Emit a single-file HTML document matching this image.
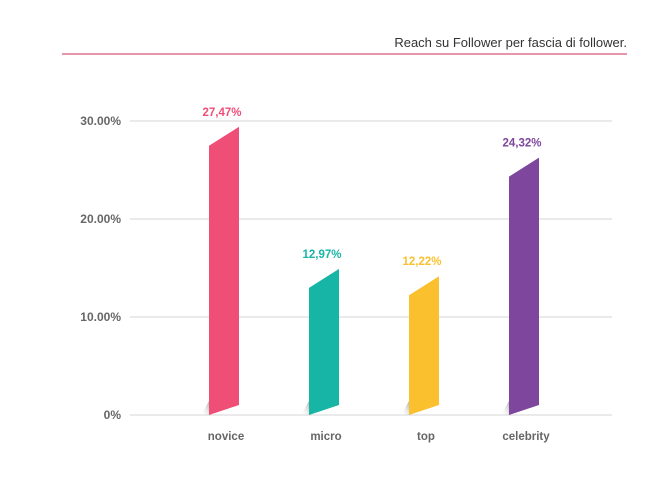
<!DOCTYPE html>
<html><head><meta charset="utf-8"><style>
body{margin:0;background:#fff;}
svg{display:block;font-family:"Liberation Sans",sans-serif;}
</style></head><body>
<svg width="668" height="479" viewBox="0 0 668 479">
<defs>
<linearGradient id="sh" x1="1" y1="0" x2="0" y2="1"><stop offset="0" stop-color="#999" stop-opacity="0.8"/><stop offset="1" stop-color="#fff" stop-opacity="0"/></linearGradient>
</defs>
<text x="627" y="47" text-anchor="end" font-size="13" fill="#333">Reach su Follower per fascia di follower.</text>
<line x1="62" y1="54" x2="627" y2="54" stroke="#d9537a" stroke-width="1.2"/>
<g id="axis"></g>
<g id="bars"></g>
</svg>
<script>
const categories=["novice","micro","top","celebrity"];
const values=[27.47,12.97,12.22,24.32];
const valueLabels=["27,47%","12,97%","12,22%","24,32%"];
const colors=["#ef4f77","#17b5a6","#fbc02d","#7e469c"];
const tickValues=[0,10,20,30];
const tickLabels=["0%","10.00%","20.00%","30.00%"];
const NS="http://www.w3.org/2000/svg";
const y0=415,ppu=9.8;
function y(v){return y0-v*ppu;}
function x(i){return 209+i*100;}
function mk(t,a,p){const e=document.createElementNS(NS,t);for(const k in a)e.setAttribute(k,a[k]);p.appendChild(e);return e;}
const ax=document.getElementById('axis'),bg=document.getElementById('bars');
tickValues.forEach((v,i)=>{
  const l=mk('line',{x1:130,x2:612,y1:y(v),y2:y(v),stroke:'#d6d6d6','stroke-width':1},ax);
  
  
  const t=mk('text',{x:121,y:y(v)+4,'text-anchor':'end','font-size':12,'font-weight':'bold',fill:'#666'},ax);
  t.textContent=tickLabels[i];
  
  
});
categories.forEach((c,i)=>{
  const xl=x(i),xr=xl+30,yt=y(values[i]);
  const s=mk('polygon',{points:`${xl},${y0} ${xl-8},${y0} ${xl},${y0-14}`,fill:'url(#sh)'},bg);
  
  
  const p=mk('polygon',{points:`${xl},${yt} ${xr},${yt-19} ${xr},${y0-10} ${xl},${y0}`,fill:colors[i]},bg);
  
  
  const v=mk('text',{x:xl+13,y:yt-30,'text-anchor':'middle','font-size':11.5,'font-weight':'bold',fill:colors[i]},bg);
  v.textContent=valueLabels[i];
  
  
  const t=mk('text',{x:xl+17,y:440,'text-anchor':'middle','font-size':11.5,'font-weight':'bold',fill:'#666'},bg);
  t.textContent=c;
  
  
});
</script>
</body></html>
